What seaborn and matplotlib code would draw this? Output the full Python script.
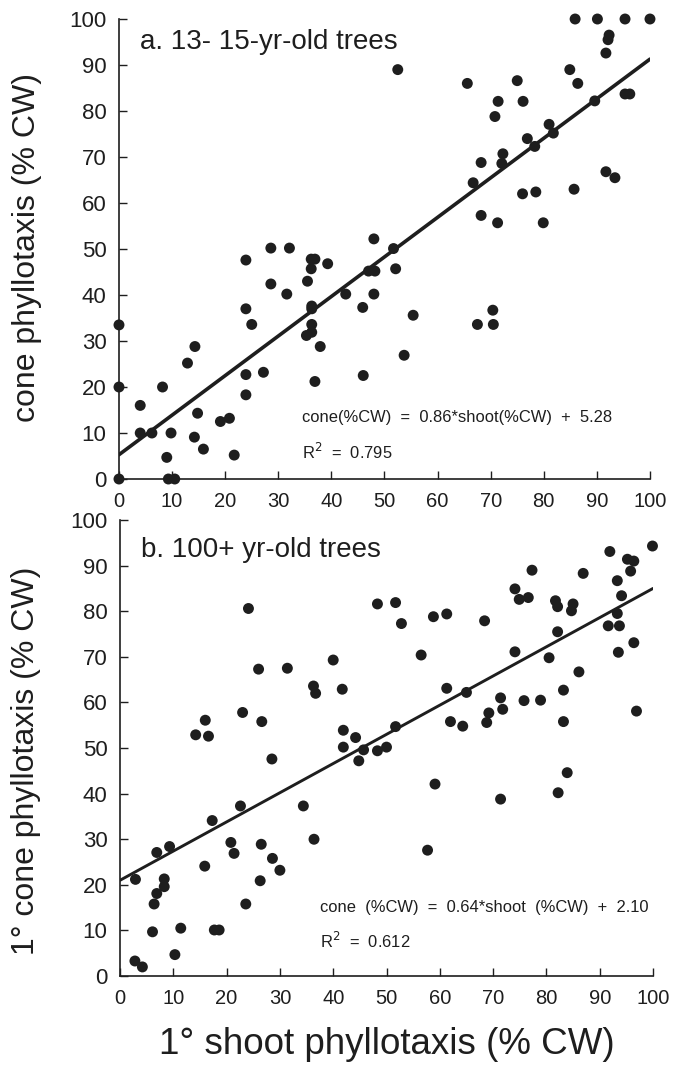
import numpy as np
import pandas as pd
import matplotlib
matplotlib.use("Agg")
import matplotlib.pyplot as plt
import seaborn as sns

# panel a: 13-15 yr-old trees (shoot %CW, cone %CW)
shoot_a = [0, 0, 0, 4, 4, 6.2, 8.2, 9, 9.3, 10.5, 9.8, 12.9, 14.3, 14.2, 14.8, 15.9,
           19.1, 20.8, 21.7, 23.9, 23.9, 25, 23.9, 23.9, 27.2, 28.6, 32.1, 28.6, 31.6,
           36.2, 36.9, 36.2, 39.3, 35.5, 36.3, 36.3, 36.3, 36.3, 35.3, 37.9, 36.9, 42.7,
           45.9, 46, 47, 48.2, 48, 48, 51.7, 52.1, 52.5, 55.4, 53.7, 67.5, 70.4, 70.5,
           85.9, 90.1, 95.3, 100, 92.3, 92.1, 91.7, 84.9, 65.6, 75, 86.4, 71.4, 76.1,
           70.8, 95.3, 96.2, 89.6, 81, 81.8, 76.9, 78.3, 72.3, 72.1, 68.2, 66.7, 91.7,
           93.4, 76, 78.5, 85.7, 68.2, 71.3, 79.9]
cone_a = [33.5, 20, 0, 16, 10, 10, 20, 4.7, 0, 0, 10, 25.2, 28.8, 9.1, 14.3, 6.5,
          12.5, 13.2, 5.2, 47.6, 37, 33.6, 22.7, 18.3, 23.2, 50.2, 50.2, 42.4, 40.2,
          47.8, 47.8, 45.7, 46.8, 43, 37.6, 37, 33.6, 31.9, 31.2, 28.8, 21.2, 40.2,
          37.3, 22.5, 45.2, 45.2, 40.2, 52.2, 50.1, 45.7, 89, 35.6, 26.9, 33.6, 36.7, 33.6,
          100, 100, 100, 100, 96.5, 95.5, 92.6, 89, 86, 86.6, 86, 82.1, 82.1,
          78.8, 83.7, 83.7, 82.2, 77.1, 75.2, 74, 72.3, 70.7, 68.6, 68.8, 64.4, 66.8,
          65.5, 62, 62.4, 63, 57.3, 55.7, 55.7]

# panel b: 100+ yr-old trees
shoot_b = [24.1, 48.3, 51.7, 52.8, 40, 26, 31.4, 36.3, 36.7, 41.7, 23, 16, 14.2, 16.6,
           26.6, 28.5, 41.9, 44.2, 41.9, 45.7, 44.8, 48.3, 50, 51.7,
           99.9, 91.9, 95.2, 96.4, 95.8, 93.3, 94.1, 77.3, 86.9, 74.1, 74.9, 76.6,
           81.7, 82.1, 85, 84.7, 58.8, 61.3, 68.4, 93.3, 91.6, 93.7, 82.1, 96.4, 56.5,
           74.1, 80.5, 93.5, 86.1, 61.3, 65, 83.2, 71.4, 71.8, 69.2, 75.8, 78.9, 96.9,
           62, 64.3, 68.8, 83.2, 83.9, 59.1, 71.4, 82.2, 57.7,
           22.6, 17.3, 34.4, 36.4, 9.3, 6.9, 20.8, 21.4, 26.5, 28.6, 30, 15.9, 2.9,
           8.3, 8.3, 6.9, 6.4, 26.3, 23.6, 6.1, 11.4, 17.7, 18.6, 10.3, 2.8, 4.2]
cone_b = [80.6, 81.6, 81.9, 77.3, 69.3, 67.3, 67.5, 63.6, 62, 62.9, 57.8, 56.1, 52.9, 52.6,
          55.8, 47.6, 53.9, 52.3, 50.2, 49.6, 47.2, 49.4, 50.2, 54.7,
          94.3, 93.1, 91.4, 91, 88.8, 86.7, 83.4, 89, 88.3, 84.9, 82.6, 83,
          82.3, 81, 81.6, 80.1, 78.8, 79.4, 77.9, 79.5, 76.8, 76.8, 75.5, 73.1, 70.4,
          71.1, 69.8, 71, 66.7, 63.1, 62.2, 62.7, 61, 58.5, 57.7, 60.4, 60.5, 58.1,
          55.8, 54.8, 55.6, 55.8, 44.6, 42.1, 38.8, 40.2, 27.6,
          37.3, 34.1, 37.3, 30, 28.4, 27.1, 29.3, 26.9, 28.9, 25.8, 23.2, 24.1, 21.2,
          21.3, 19.6, 18.1, 15.8, 20.9, 15.8, 9.7, 10.5, 10.1, 10.1, 4.7, 3.3, 2]

# fitted lines as drawn on the figure (slope, intercept)
fit_a = (0.86, 5.28)
fit_b = (0.64, 21.0)
ticks = list(range(0, 101, 10))

sns.set_theme(style="ticks")
plt.rcParams['font.family'] = ['Liberation Sans', 'DejaVu Sans']
plt.rcParams['xtick.direction'] = 'in'
plt.rcParams['ytick.direction'] = 'in'

INK = '#1e1e1e'

fig = plt.figure(figsize=(6.73, 10.74), dpi=100)
ax_a = fig.add_axes([0.1768, 0.554, 0.789, 0.4283])
ax_b = fig.add_axes([0.1783, 0.0912, 0.792, 0.4246])


def draw_panel(ax, xs, ys, fit, lw, title, title_y, eq, r2, txt_x, eq_y, r2_y):
    df = pd.DataFrame({'shoot': xs, 'cone': ys})
    sns.scatterplot(data=df, x='shoot', y='cone', ax=ax, color=INK, s=62,
                    edgecolor='none', clip_on=False, zorder=3)
    xl = np.array([0, 100])
    sns.lineplot(x=xl, y=fit[0] * xl + fit[1], ax=ax, color=INK, linewidth=lw,
                 zorder=2)
    ax.set_xlim(0, 100)
    ax.set_ylim(0, 100)
    ax.set_xticks(ticks)
    ax.set_yticks(ticks)
    ax.tick_params(length=6, width=1, colors=INK)
    ax.tick_params(axis='x', labelsize=14.5, pad=9)
    ax.tick_params(axis='y', labelsize=16, pad=9)
    for s in ['left', 'bottom']:
        ax.spines[s].set_linewidth(1.2)
        ax.spines[s].set_color(INK)
    sns.despine(ax=ax)
    ax.set_xlabel("")
    ax.text(0.04, title_y, title, transform=ax.transAxes, fontsize=20,
            va='center', ha='left', color=INK)
    ax.text(txt_x, eq_y, eq, transform=ax.transAxes, fontsize=11.9, va='center',
            ha='left', color=INK)
    ax.text(txt_x, r2_y, r2, transform=ax.transAxes, fontsize=11.9, va='center',
            ha='left', color=INK)


draw_panel(ax_a, shoot_a, cone_a, fit_a, 2.6, "a. 13- 15-yr-old trees", 0.95,
           "cone(%CW)  =  0.86*shoot(%CW)  +  5.28", r"R$^2$  =  0.795",
           0.345, 0.133, 0.058)
draw_panel(ax_b, shoot_b, cone_b, fit_b, 2.1, "b. 100+ yr-old trees", 0.934,
           "cone  (%CW)  =  0.64*shoot  (%CW)  +  2.10", r"R$^2$  =  0.612",
           0.375, 0.151, 0.078)

ax_a.set_ylabel("cone phyllotaxis (% CW)", fontsize=23, color=INK)
ax_a.yaxis.set_label_coords(-0.145, 0.504)
ax_b.set_ylabel("1° cone phyllotaxis (% CW)", fontsize=23, color=INK)
ax_b.yaxis.set_label_coords(-0.148, 0.471)
ax_b.set_xlabel("1° shoot phyllotaxis (% CW)", fontsize=26.5, color=INK)
ax_b.xaxis.set_label_coords(0.5, -0.112)

fig.savefig("out.png", dpi=100)
